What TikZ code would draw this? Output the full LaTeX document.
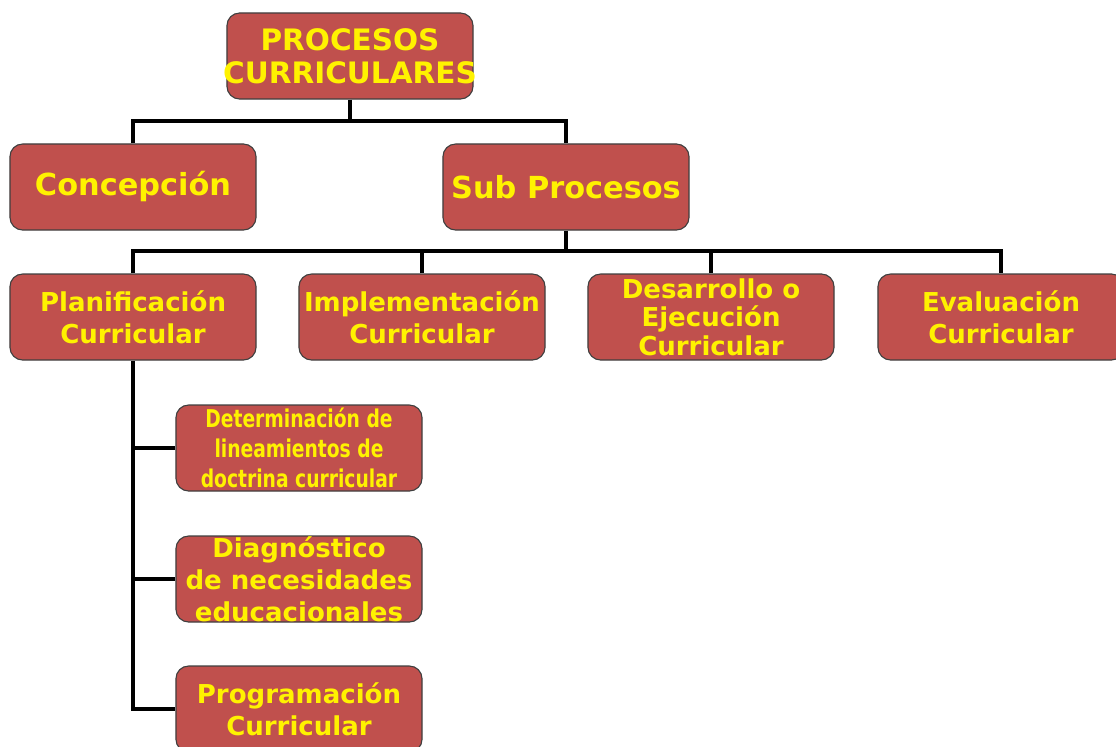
\documentclass[tikz,border=0pt]{standalone}
\usepackage{fontspec}
\setmainfont{DejaVu Sans}
\newfontfamily\narrowfont{DejaVu Sans Condensed}[FakeStretch=0.85]
\definecolor{cajarojo}{HTML}{C0504D}
\definecolor{cajaborde}{HTML}{3F3F3F}

\begin{document}
\begin{tikzpicture}[x=0.025cm, y=-0.025cm,
    caja/.style={draw=cajaborde, line width=0.8pt, fill=cajarojo, rounded corners=9pt,
        minimum width=6.15cm, minimum height=2.15cm, inner sep=0pt, align=center,
        text=yellow, font=\bfseries\fontsize{18.5}{22.7}\selectfont},
    rama/.style={line width=2.8pt}]
    \useasboundingbox (0,0) rectangle (1116,746);

    % nivel 1 (el texto sobresale de la caja)
    \node[caja, font=\bfseries\fontsize{21}{23.5}\selectfont] (raiz) at (350,56) {\makebox[0pt]{PROCESOS}\\\makebox[0pt]{CURRICULARES}};

    % nivel 2
    \node[caja, font=\bfseries\fontsize{21.6}{24}\selectfont] (concep) at (133,187) {Concepción};
    \node[caja, font=\bfseries\fontsize{21.6}{24}\selectfont] (subp) at (566,187) {Sub Procesos};

    % nivel 3
    \node[caja] (plan) at (133,317) {Planificación\\Curricular};
    \node[caja] (impl) at (422,317) {Implementación\\Curricular};
    \node[caja, font=\bfseries\fontsize{18.5}{20.2}\selectfont] (desa) at (711,317) {Desarrollo o\\Ejecución\\Curricular};
    \node[caja] (eval) at (1001,317) {Evaluación\\Curricular};

    % planificacion
    \node[caja, font=\narrowfont\bfseries\fontsize{17.4}{21.5}\selectfont] (deter) at (299,448) {Determinación de\\lineamientos de\\doctrina curricular};
    \node[caja] (diag) at (299,579) {Diagnóstico\\de necesidades\\educacionales};
    \node[caja] (prog) at (299,709) {Programación\\Curricular};

    \draw[rama] (raiz.south) -- ++(0,23);
    \draw[rama] (concep.north) -- ++(0,-22) -| (subp.north);

    \draw[rama] (subp.south) -- ++(0,21);
    \draw[rama] (plan.north) -- ++(0,-22) -| (eval.north);
    \draw[rama] (impl.north) -- ++(0,-22);
    \draw[rama] (desa.north) -- ++(0,-22);

    \draw[rama] (plan.south) |- (prog.west);
    \draw[rama] (deter.west) -- (deter.west -| plan.south);
    \draw[rama] (diag.west) -- (diag.west -| plan.south);
\end{tikzpicture}
\end{document}
